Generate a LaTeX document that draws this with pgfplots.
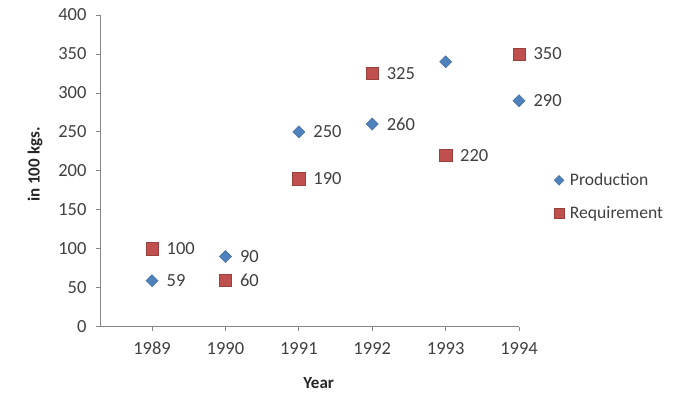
\documentclass[border=0pt]{standalone}
\usepackage{pgfplots}
\pgfplotsset{compat=1.18}
\usepackage{fontspec}
\setmainfont{Carlito}
\definecolor{prodblue}{HTML}{4F81BD}
\definecolor{reqred}{HTML}{C0504D}
\definecolor{axgray}{HTML}{868686}
\definecolor{txtgray}{HTML}{404040}
\begin{document}
\begin{tikzpicture}
\path[use as bounding box] (0pt,0pt) rectangle (679pt,394pt);
\begin{axis}[
  at={(100pt,67.3pt)}, anchor=south west,
  scale only axis, width=419pt, height=311.7pt,
  xmin=1988.29, xmax=1994,
  ymin=0, ymax=400,
  xtick={1989,1990,1991,1992,1993,1994},
  ytick={0,50,100,150,200,250,300,350,400},
  xticklabel style={/pgf/number format/1000 sep={}},
  /pgf/number format/assume math mode=true,
  axis x line*=bottom, axis y line*=left,
  axis line style={axgray, line width=0.8pt},
  tick style={axgray, line width=0.8pt},
  tick align=outside, major tick length=4pt,
  every tick label/.append style={font=\fontsize{18.5}{21}\selectfont, text=txtgray},
  yticklabel style={xshift=-6pt},
  xticklabel style={yshift=-8pt},
  xlabel={Year}, ylabel={in 100 kgs.},
  xlabel style={font=\fontsize{17}{20}\selectfont\bfseries, text=black!85, at={(axis description cs:0.522,0)}, anchor=center, yshift=-56pt},
  ylabel style={font=\fontsize{17}{20}\selectfont\bfseries, text=black!85, at={(axis description cs:-0.155,0.52)}, anchor=center},
  clip=false,
  legend style={draw=none, fill=none, at={(axis description cs:1.076,0.505)}, anchor=north west,
    font=\fontsize{17.6}{20}\selectfont, text=txtgray, row sep=15pt,
    /tikz/every odd column/.append style={column sep=4pt}},
  legend cell align=left,
  every legend image post/.append style={scale=0.8},
  nodes near coords={\pgfplotspointmeta},
  point meta=explicit symbolic,
  every node near coord/.append style={anchor=west, xshift=11pt, yshift=0pt, font=\fontsize{18.5}{21}\selectfont, text=txtgray},
]
\addplot[only marks, mark=square*, mark size=4.3pt, mark options={rotate=45, fill=prodblue, draw=prodblue!80!black}]
  coordinates {(1989,59)[59] (1990,90)[90] (1991,250)[250] (1992,260)[260] (1993,340)[{}] (1994,290)[290]};
\addlegendentry{Production}
\addplot[only marks, mark=square*, mark size=6.2pt, mark options={fill=reqred, draw=reqred!80!black}]
  coordinates {(1989,100)[100] (1990,60)[60] (1991,190)[190] (1992,325)[325] (1993,220)[220] (1994,350)[350]};
\addlegendentry{Requirement}
\end{axis}
\end{tikzpicture}
\end{document}
